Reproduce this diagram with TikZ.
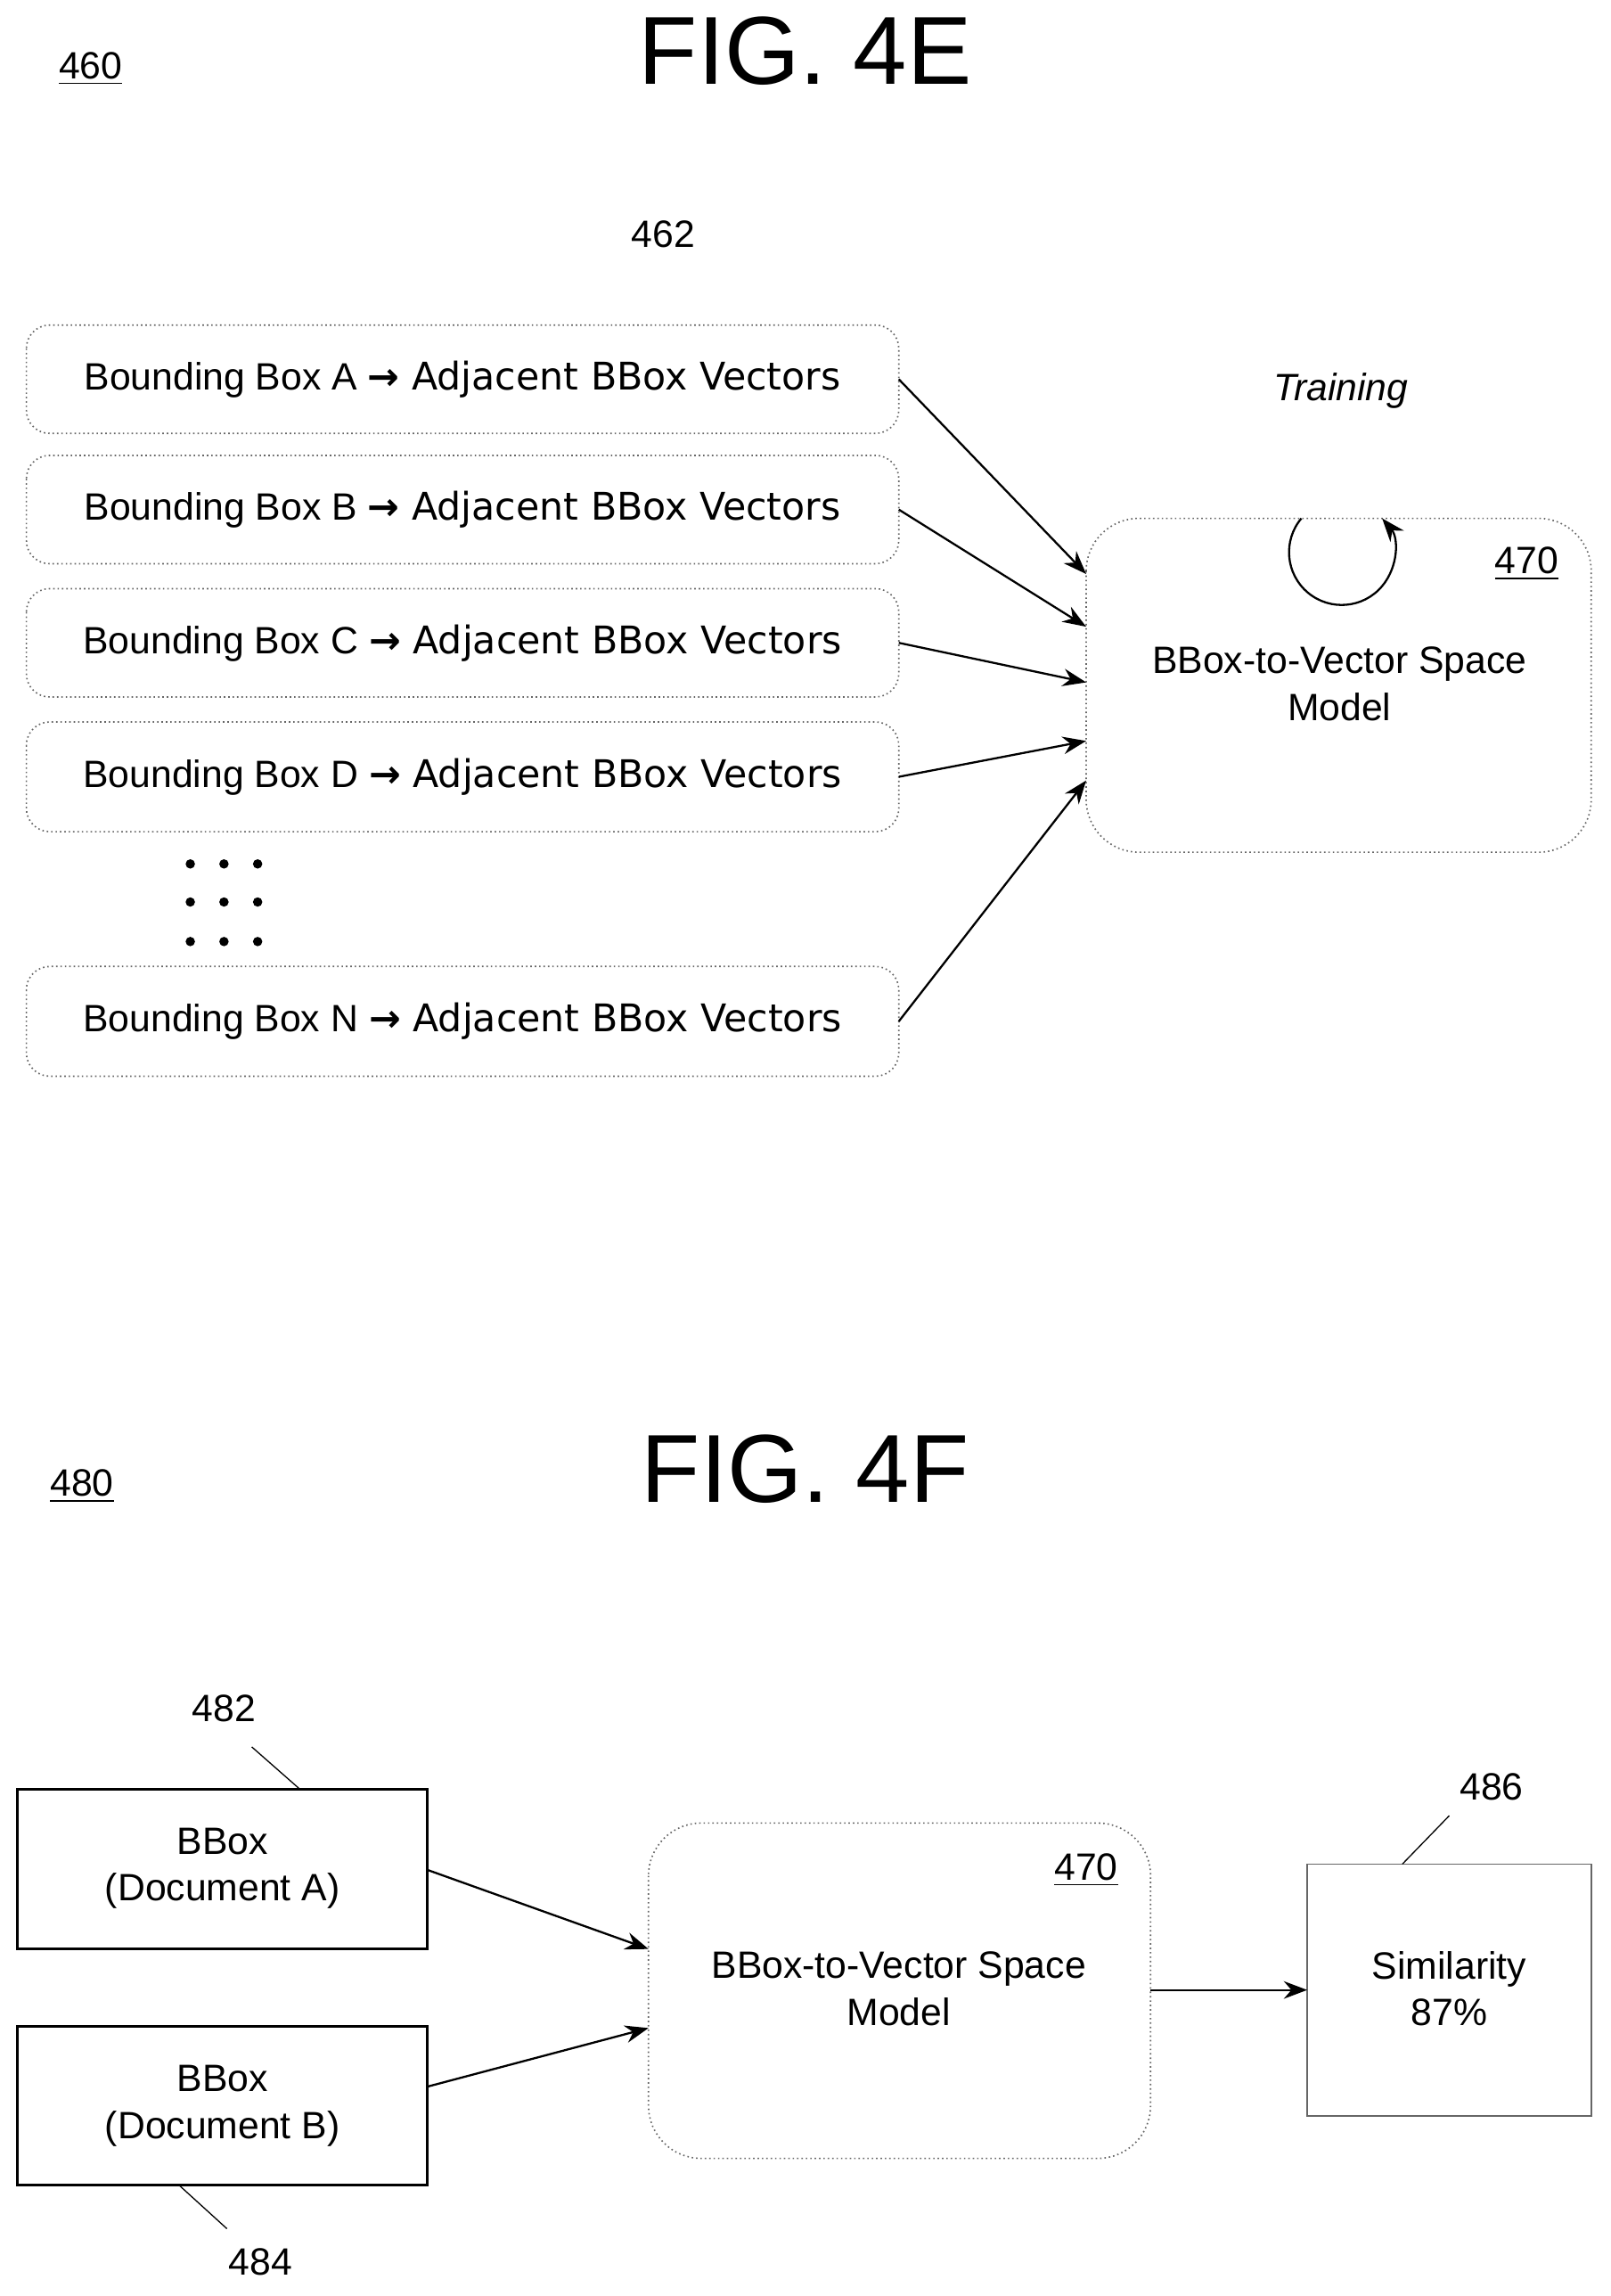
\documentclass[tikz,border=0pt]{standalone}
\usepackage{fontspec}
\setmainfont{Liberation Sans}
\usetikzlibrary{arrows.meta}
\begin{document}
\begin{tikzpicture}[x=0.5pt,y=-0.5pt,
 bb/.style={draw=black!60,densely dotted,rounded corners=8pt,line width=0.5pt},
 mdl/.style={draw=black!60,densely dotted,rounded corners=18pt,line width=0.5pt},
 sb/.style={draw=black,line width=1pt},
 ar/.style={-{Stealth[length=8pt,width=6pt]},line width=0.7pt},
 txt/.style={font=\fontsize{13}{16}\selectfont,align=center},
 big/.style={font=\fontsize{33}{36}\selectfont}]
\useasboundingbox (0,0) rectangle (1100,1568);
\node[big] (t1) at (550,35) {FIG. 4E};
\node[txt] (l460) at (62,47) {\underline{460}};
\node[txt] (l462) at (453,160) {462};
\foreach \n/\L/\ya/\yb in {a/A/222/296,b/B/311/385,c/C/402/476,d/D/493/568,n/N/660/735}{
 \draw[bb] (18,\ya) rectangle (614,\yb);
 \node[txt] (\n) at (316,{(\ya+\yb)/2}) {Bounding Box \L\ \fontspec{DejaVu Sans}\textbf{→}\ Adjacent BBox Vectors};
 \coordinate (\n r) at (614,{(\ya+\yb)/2});
}
\draw[mdl] (742,354) rectangle (1087,582);
\node[txt] (m1) at (915,467) {BBox-to-Vector Space\\Model};
\node[txt] (l470a) at (1043,385) {\underline{470}};
\draw[ar] (ar) -- (742,392);
\draw[ar] (br) -- (742,428);
\draw[ar] (cr) -- (742,466);
\draw[ar] (dr) -- (742,506);
\draw[ar] (nr) -- (742,533);
\foreach \x in {130,153,176}\foreach \y in {590,616,643}\fill (\x,\y) circle (1.6pt);
\draw[ar] (889,354) arc (220:-40:36);
\node[txt,font=\fontsize{13}{16}\selectfont\itshape] (tr) at (916,267) {Training};

\node[big] (t2) at (550,1003) {FIG. 4F};
\node[txt] (l480) at (56,1015) {\underline{480}};
\draw[sb] (12,1222) rectangle (292,1331);
\node[txt] (da) at (152,1276) {BBox\\(Document A)};
\draw[sb] (12,1384) rectangle (292,1492);
\node[txt] (db) at (152,1438) {BBox\\(Document B)};
\draw[mdl] (443,1245) rectangle (786,1474);
\node[txt] (m2) at (614,1358) {BBox-to-Vector Space\\Model};
\node[txt] (l470b) at (742,1277) {\underline{470}};
\draw[draw=black!60,line width=0.5pt] (893,1273) rectangle (1087,1445);
\node[txt] (sim) at (990,1358) {Similarity\\87\%};
\draw[ar] (292,1277) -- (443,1331);
\draw[ar] (292,1425) -- (443,1385);
\draw[ar] (786,1359) -- (893,1359);
\node[txt] (l482) at (153,1167) {482};
\draw (172,1193) -- (205,1222);
\node[txt] (l484) at (178,1545) {484};
\draw (122,1492) -- (155,1522);
\node[txt] (l486) at (1019,1220) {486};
\draw (990,1240) -- (958,1273);
\end{tikzpicture}
\end{document}
